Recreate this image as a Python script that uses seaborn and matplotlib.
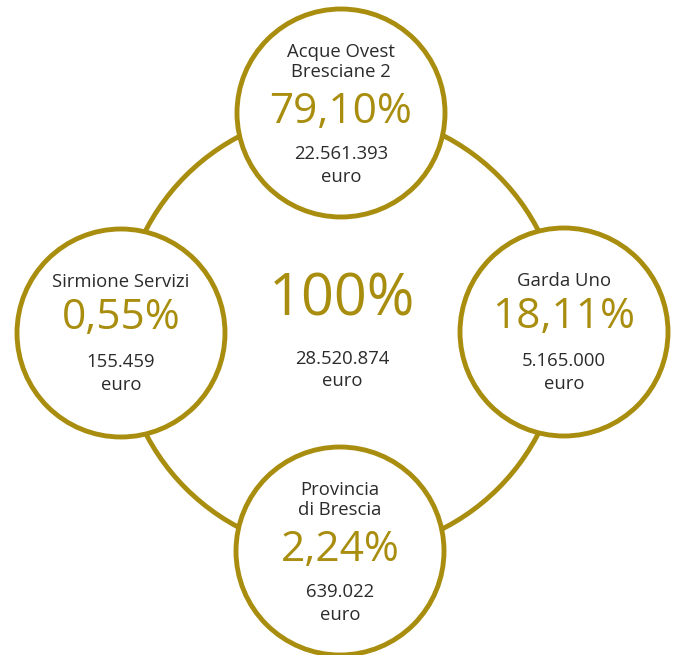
import matplotlib
matplotlib.use("Agg")
import matplotlib.pyplot as plt
from matplotlib.patches import Circle
import seaborn as sns

# ---- data ----
names = ["Acque Ovest\nBresciane 2", "Garda Uno", "Provincia\ndi Brescia", "Sirmione Servizi"]
shares = ["79,10%", "18,11%", "2,24%", "0,55%"]
amounts = ["22.561.393", "5.165.000", "639.022", "155.459"]
total_share = "100%"
total_amount = "28.520.874"
unit = "euro"

# ---- layout (pixels) ----
node_x = [341, 564, 340, 121]
node_y = [113, 332, 551, 333]
node_r = 104
ring_c = (342, 332)
ring_r = 221

gold = "#A88D0E"
dark = "#2b2b2b"

sns.set_theme(style="white")
plt.rcParams["font.family"] = ["Open Sans", "DejaVu Sans"]

fig = plt.figure(figsize=(6.75, 6.55), dpi=100)
ax = fig.add_axes([0, 0, 1, 1])
ax.set_xlim(0, 675)
ax.set_ylim(655, 0)
ax.set_aspect("equal")
ax.axis("off")

ax.add_patch(Circle(ring_c, ring_r, fill=False, ec=gold, lw=3.5, zorder=1))

small = 13.3
for i, (x, y) in enumerate(zip(node_x, node_y)):
    ax.add_patch(Circle((x, y), node_r, fc="white", ec=gold, lw=3.5, zorder=2))
    two_line = "\n" in names[i]
    if two_line:
        name_y, share_y, amt_y, euro_y = y - 51, y - 1, y + 41, y + 64
    else:
        name_y, share_y, amt_y, euro_y = y - 51, y - 15, y + 29, y + 52
    ax.text(x, name_y, names[i], ha="center", va="center", fontsize=small,
            color=dark, linespacing=1.1, zorder=3)
    ax.text(x, share_y, shares[i], ha="center", va="center", fontsize=30.5,
            color=gold, zorder=3)
    ax.text(x, amt_y, amounts[i], ha="center", va="center", fontsize=small,
            color=dark, zorder=3)
    ax.text(x, euro_y, unit, ha="center", va="center", fontsize=small,
            color=dark, zorder=3)

ax.text(ring_c[0], 300, total_share, ha="center", va="center", fontsize=41.5,
        color=gold, zorder=3)
ax.text(ring_c[0], 359, total_amount, ha="center", va="center", fontsize=small,
        color=dark, zorder=3)
ax.text(ring_c[0], 381, unit, ha="center", va="center", fontsize=small,
        color=dark, zorder=3)

fig.savefig("out.png", dpi=100, facecolor="white")
